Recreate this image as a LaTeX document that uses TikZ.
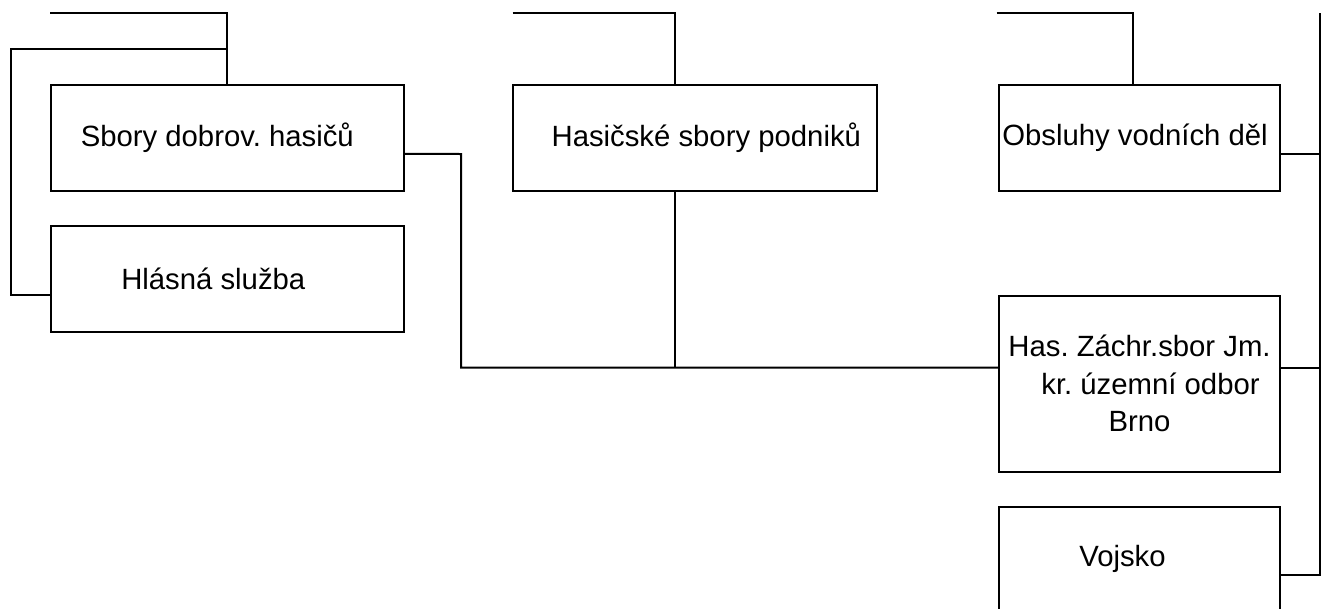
\documentclass[tikz,border=0pt]{standalone}
\usepackage{fontspec}
\setmainfont{Liberation Sans}
\frenchspacing
\begin{document}
\begin{tikzpicture}[x=1pt,y=-1pt,
  box/.style={draw,line width=2pt,rectangle,inner sep=0pt,minimum width=281pt,
    minimum height=105.7pt,font=\fontsize{29.3}{37.5}\selectfont},
  conn/.style={draw,line width=2pt}]
\useasboundingbox (0,0) rectangle (1321,608);
\clip (0,0) rectangle (1321,608);
% boxes
\node[box,minimum width=353.3pt] (sbory) at (227.3,137.9) {\hspace*{-20pt}Sbory dobrov. hasičů};
\node[box,minimum width=353.3pt] (hlas) at (227.3,278.9) {\hspace*{-28pt}Hlásná služba};
\node[box,minimum width=364pt] (hasp) at (695.3,137.9) {\hspace*{22pt}Hasičské sbory podniků};
\node[box] (obs) at (1139.5,137.9) {\hspace*{-9pt}Obsluhy vodních děl};
\node[box,minimum height=176pt,align=center] (hzs) at (1139.5,383.7)
  {Has. Záchr.sbor Jm.\\\hspace*{22pt}kr. územní odbor\\Brno};
\node[box,minimum height=103pt] (voj) at (1139.5,558.6) {\hspace*{-34pt}Vojsko};
% free ends and junctions
\coordinate (t1) at (50,12.7);
\coordinate (t2) at (11,49);
\coordinate (t3) at (512.7,12.7);
\coordinate (t4) at (996.7,12.7);
\coordinate (bt) at (1319.5,12.7);
\coordinate (k1) at (461,154);
\coordinate (hj) at (675,367.7);
\coordinate (ht) at (675,12.7);
\coordinate (ot) at (1133,12.7);
\coordinate (hr) at ([yshift=16pt]hzs.east);
% left group
\draw[conn] (t1) -| (sbory.north);
\draw[conn] (sbory.north |- t2) -- (t2) |- ([yshift=-16pt]hlas.west);
\draw[conn] ([yshift=-16pt]sbory.east) -- (k1) |- ([yshift=16pt]hzs.west);
% middle group
\draw[conn] (t3) -- (ht) -- (ht |- hasp.north);
\draw[conn] (hj |- hasp.south) -- (hj);
% right group
\draw[conn] (t4) -- (ot) -- (ot |- obs.north);
\draw[conn] ([yshift=-16pt]obs.east) -| (bt);
\draw[conn] (hr) -- (hr -| bt);
\draw[conn] ([yshift=-16pt]voj.east) -| (bt);
\end{tikzpicture}
\end{document}
